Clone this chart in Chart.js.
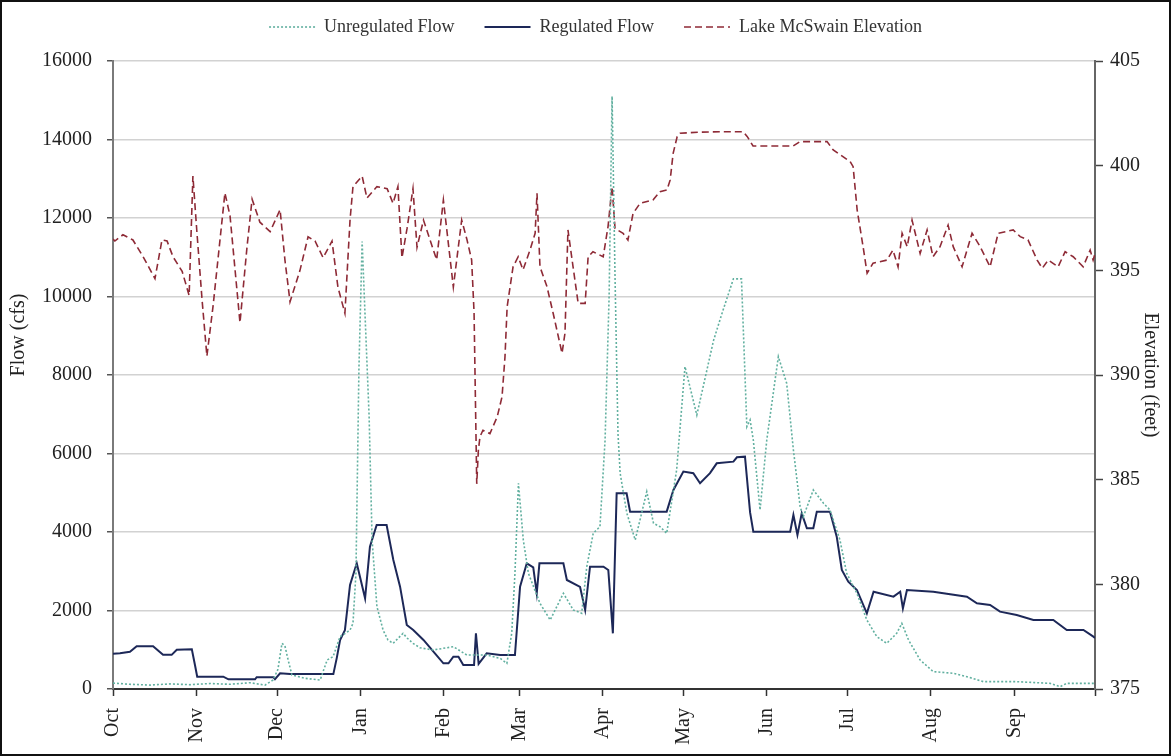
<!DOCTYPE html>
<html>
<head>
<meta charset="utf-8">
<title>Flow and Lake McSwain Elevation</title>
<script src="https://cdn.jsdelivr.net/npm/chart.js@4.4.1/dist/chart.umd.min.js"></script>
<style>
  html, body { margin: 0; padding: 0; background: #ffffff; }
  #c { display: block; }
</style>
</head>
<body>
<canvas id="c" width="1171" height="756"></canvas>
<script>
// Water year axis: day 0 = 1 October
const monthLabels = ['Oct', 'Nov', 'Dec', 'Jan', 'Feb', 'Mar', 'Apr', 'May', 'Jun', 'Jul', 'Aug', 'Sep'];
const monthStartDays = [0, 31, 61, 92, 123, 151, 182, 212, 243, 273, 304, 335];
const yearEndDay = 365;

// Left axis (flow, cfs) and right axis (elevation, feet)
const flowTickValues = [0, 2000, 4000, 6000, 8000, 10000, 12000, 14000, 16000];
const elevTickValues = [375, 380, 385, 390, 395, 400, 405];

// Unregulated flow (cfs)
const unregDays = [0, 6.3, 13.8, 21.2, 28.6, 36.1, 43.5, 50.9, 56.5, 59.5, 61.3, 62.8, 63.9, 65.1, 66.5, 71.4, 77, 79.6, 81.8, 84.4,
  88.1, 89.2, 90.3, 91.4, 92.6, 93.7, 95.2, 96.3, 98.1, 100.4, 102.2, 104.1, 107.8, 109.3, 111.5, 114.1, 119.1, 126.5, 131.5, 138.9,
  143.9, 146.4, 148.2, 149.4, 150.7, 152.5, 154.4, 158.7, 162.5, 167.4, 171.1, 174.2, 176.1, 178.5, 181, 182.9, 184.4, 185.5, 186.6, 187.7,
  188.5, 191, 194.1, 198.4, 200.9, 203.3, 205.8, 209.5, 212.6, 217, 223.2, 226.5, 230.6, 233.6, 235.6, 236.8, 238, 240.5, 243, 247.3,
  250.4, 252.9, 255.4, 256.6, 260.3, 264.1, 266.5, 270.2, 272.7, 276.5, 280.2, 283.9, 287.6, 291.3, 293.2, 295.7, 300, 304.9, 312.4, 317.4,
  323.5, 335.9, 348.3, 352, 354.5, 365];
const unregFlow = [150, 120, 100, 130, 110, 140, 120, 160, 100, 229, 500, 1163, 1100, 739, 357, 272, 229, 739, 824, 1333,
  1500, 1673, 2947, 8128, 11400, 9500, 6938, 3797, 2098, 1500, 1248, 1163, 1418, 1300, 1163, 1050, 994, 1079, 866, 866,
  781, 654, 1418, 2947, 5241, 3797, 2947, 2183, 1758, 2438, 2013, 1928, 3117, 3967, 4137, 6344, 10000, 15100, 10500, 6500,
  5496, 4476, 3797, 5029, 4222, 4137, 3967, 5581, 8213, 6981, 8876, 9600, 10450, 10450, 6684, 6854, 6344, 4561, 6344, 8468,
  7789, 6090, 4646, 4391, 5071, 4731, 4561, 3797, 2947, 2438, 1758, 1333, 1163, 1418, 1673, 1248, 739, 442, 399, 314,
  187, 187, 144, 59, 144, 144];

// Regulated flow (cfs)
const regDays = [0, 2.6, 6.3, 8.8, 14.9, 18.6, 21.8, 23.7, 29.3, 30.5, 31.3, 41, 42.9, 52.8, 53.4, 59.6, 60.2, 62.1, 65.8, 81.9,
  83.2, 84.4, 86.2, 88.1, 90.6, 93.7, 95.5, 98, 101.7, 104.2, 106.7, 109.2, 111.6, 115.4, 119.1, 122.8, 124.7, 126.5, 128.4, 130.2,
  134.2, 134.9, 135.9, 138.9, 143.9, 149.4, 151.3, 153.8, 156.2, 157.5, 158.5, 167.4, 168.7, 173.6, 175.5, 177.3, 182.3, 184.1, 185.8, 187.2,
  190.9, 192.2, 205.8, 208.3, 212, 215.7, 218.2, 221.9, 224.4, 230.6, 231.9, 234.9, 236.8, 238, 251.7, 252.9, 254.4, 256, 257.9, 260.3,
  261.6, 266.5, 269, 270.9, 273.3, 276.5, 280.2, 282.7, 290.1, 292.6, 293.6, 295.1, 304.9, 317.4, 321.1, 326, 329.7, 335.9, 342.1, 349.5,
  354.5, 360.7, 364.4, 365];
const regFlow = [900, 910, 950, 1090, 1090, 870, 870, 1000, 1010, 600, 313, 313, 247, 247, 300, 300, 250, 400, 380, 380,
  800, 1248, 1500, 2650, 3202, 2310, 3626, 4179, 4179, 3287, 2607, 1630, 1503, 1250, 951, 654, 654, 824, 824, 612,
  612, 1418, 640, 909, 866, 866, 2607, 3202, 3100, 2438, 3202, 3202, 2777, 2600, 2013, 3117, 3117, 3032, 1418, 4986,
  4986, 4519, 4519, 5071, 5538, 5496, 5241, 5500, 5750, 5793, 5903, 5920, 4500, 4009, 4009, 4434, 3924, 4476, 4094, 4094,
  4519, 4519, 3882, 3032, 2735, 2523, 1928, 2480, 2353, 2480, 2056, 2523, 2480, 2353, 2183, 2141, 1970, 1885, 1758, 1758,
  1503, 1503, 1333, 1300];

// Lake McSwain elevation (feet)
const elevDays = [0, 0.7, 3.7, 7.4, 11.2, 15.6, 18.2, 20.1, 22.3, 25.7, 28.3, 29.7, 31.2, 33.1, 34.9, 37.2, 41.6, 43.5, 47.2, 49.8,
  51.7, 54.6, 58.4, 62.1, 63.9, 65.8, 69.5, 72.5, 75.1, 78.1, 81.4, 83.6, 86.2, 88.1, 89.2, 92.6, 94.4, 98.1, 101.9, 104.1,
  105.9, 107.4, 109.3, 111.5, 113, 115.4, 120.3, 122.8, 126.5, 129.6, 131.5, 133.3, 134.2, 135.2, 135.8, 136.4, 137.5, 140.1, 142.8, 144.6,
  145.7, 146.5, 148.7, 150.6, 152.4, 155, 156.9, 157.6, 158.7, 161.3, 163.6, 166.9, 168, 169.1, 171, 172.9, 175.5, 176.6, 178.4, 182.2,
  184, 185.5, 186.6, 189.6, 191.4, 193.3, 195.9, 200.7, 203.3, 205.9, 207.1, 208.2, 209.7, 210.8, 218.2, 225.7, 234.2, 235.7, 237.9, 252.8,
  255.4, 265.4, 267.7, 274, 275.1, 276.6, 278.8, 280.3, 282.5, 287.7, 289.9, 291.8, 293.3, 295.2, 297, 300, 302.6, 304.8, 307.4, 310.4,
  312.3, 315.6, 319.3, 322.3, 326, 329, 334.6, 337.2, 340.1, 343.5, 345.4, 347.6, 351.3, 353.9, 356.9, 360.6, 363.2, 364.3, 365];
const elevFeet = [396.5, 396.4, 396.7, 396.45, 395.65, 394.6, 396.45, 396.4, 395.65, 394.95, 393.8, 399.5, 396.8, 393.6, 390.9, 393.3, 398.7, 397.6, 392.5, 396.1,
  398.4, 397.3, 396.85, 397.9, 395.5, 393.5, 395.0, 396.6, 396.4, 395.6, 396.4, 394.2, 392.95, 397.4, 399.0, 399.5, 398.45, 399.0, 398.9, 398.2,
  399.0, 395.6, 397.0, 398.9, 396.1, 397.4, 395.5, 398.36, 394.2, 397.4, 396.5, 395.5, 393.0, 384.8, 386.4, 387.05, 387.36, 387.2, 388.0, 388.96,
  390.87, 393.26, 395.17, 395.65, 395.02, 395.97, 396.77, 398.68, 395.17, 394.22, 392.95, 391.04, 392.0, 396.93, 395.17, 393.42, 393.42, 395.65, 395.89, 395.65,
  397.09, 399.0, 397.0, 396.77, 396.45, 397.72, 398.2, 398.36, 398.76, 398.84, 399.32, 400.59, 401.39, 401.55, 401.6, 401.62, 401.62, 401.4, 400.94, 400.94,
  401.15, 401.15, 400.75, 400.19, 399.95, 397.88, 396.13, 394.86, 395.34, 395.49, 395.97, 395.17, 396.77, 396.13, 397.4, 395.81, 396.93, 395.65, 396.13, 397.16,
  396.13, 395.17, 396.77, 396.13, 395.17, 396.77, 396.93, 396.61, 396.45, 395.49, 395.1, 395.49, 395.17, 395.89, 395.65, 395.17, 395.97, 395.49, 395.8];

const toPoints = (xs, ys) => xs.map((x, i) => ({ x: x, y: ys[i] }));

const SERIF = "'Liberation Serif', 'Times New Roman', serif";
const TEXT = '#222222';

// Plot box inside the 1171 x 756 canvas
const PLOT_LEFT = 113, PLOT_RIGHT = 1095, PLOT_BOTTOM = 689;
const PAD_LEFT = 20;

// Extra room under the legend row
const legendSpacer = {
  id: 'legendSpacer',
  beforeInit(chart) {
    const baseFit = chart.legend.fit;
    chart.legend.fit = function () {
      baseFit.call(this);
      this.height += 15;
    };
  }
};

// White page with a dark frame
const pageFrame = {
  id: 'pageFrame',
  beforeDraw(chart) {
    const ctx = chart.ctx;
    ctx.save();
    ctx.fillStyle = '#ffffff';
    ctx.fillRect(0, 0, chart.width, chart.height);
    ctx.restore();
  },
  afterDraw(chart) {
    const ctx = chart.ctx;
    ctx.save();
    ctx.strokeStyle = '#111111';
    ctx.lineWidth = 2;
    ctx.strokeRect(1, 1, chart.width - 2, chart.height - 2);
    ctx.restore();
  }
};

// Left axis title, set a little above the middle of the axis
const flowAxisTitle = {
  id: 'flowAxisTitle',
  afterDraw(chart) {
    const ctx = chart.ctx;
    ctx.save();
    ctx.translate(19, 335);
    ctx.rotate(-Math.PI / 2);
    ctx.font = '20px ' + SERIF;
    ctx.fillStyle = TEXT;
    ctx.textAlign = 'center';
    ctx.textBaseline = 'middle';
    ctx.fillText('Flow (cfs)', 0, 0);
    ctx.restore();
  }
};

// Legend samples use each series' own line colour, width and dash
function legendLineItems(chart) {
  const items = Chart.defaults.plugins.legend.labels.generateLabels(chart);
  items.forEach(item => {
    const ds = chart.data.datasets[item.datasetIndex];
    item.strokeStyle = ds.borderColor;
    item.lineWidth = ds.borderWidth;
    item.lineDash = ds.borderDash || [];
    item.pointStyle = 'line';
  });
  return items;
}

new Chart(document.getElementById('c'), {
  type: 'line',
  data: {
    datasets: [
      {
        label: 'Unregulated Flow',
        data: toPoints(unregDays, unregFlow),
        yAxisID: 'y',
        borderColor: '#62b0a0',
        backgroundColor: 'rgba(0,0,0,0)',
        borderWidth: 1.6,
        borderDash: [2, 2],
        pointRadius: 0,
        tension: 0
      },
      {
        label: 'Regulated Flow',
        data: toPoints(regDays, regFlow),
        yAxisID: 'y',
        borderColor: '#1d2858',
        backgroundColor: 'rgba(0,0,0,0)',
        borderWidth: 2,
        pointRadius: 0,
        tension: 0
      },
      {
        label: 'Lake McSwain Elevation',
        data: toPoints(elevDays, elevFeet),
        yAxisID: 'y2',
        borderColor: '#8e2a36',
        backgroundColor: 'rgba(0,0,0,0)',
        borderWidth: 1.6,
        borderDash: [7, 4],
        pointRadius: 0,
        tension: 0
      }
    ]
  },
  options: {
    responsive: false,
    animation: false,
    devicePixelRatio: 1,
    layout: { padding: { top: -12, left: PAD_LEFT, right: 0, bottom: 0 } },
    plugins: {
      tooltip: { enabled: false },
      legend: {
        display: true,
        position: 'top',
        labels: {
          font: { family: SERIF, size: 18 },
          color: '#333333',
          usePointStyle: true,
          pointStyle: 'line',
          pointStyleWidth: 46,
          boxHeight: 10,
          padding: 30,
          generateLabels: legendLineItems
        }
      }
    },
    scales: {
      x: {
        type: 'linear',
        position: 'bottom',
        min: 0,
        max: yearEndDay,
        afterBuildTicks(scale) {
          scale.ticks = monthStartDays.concat([yearEndDay]).map(v => ({ value: v }));
        },
        afterFit(scale) { scale.height = 756 - PLOT_BOTTOM; },
        ticks: {
          autoSkip: false,
          maxRotation: 90,
          minRotation: 90,
          padding: 12,
          color: TEXT,
          font: { family: SERIF, size: 20 },
          callback: (value, index) => (index < monthLabels.length ? monthLabels[index] : '')
        },
        grid: { drawOnChartArea: false, drawTicks: true, tickLength: 7, tickColor: '#333333', tickWidth: 1.5 },
        border: { display: true, color: '#333333', width: 2 }
      },
      y: {
        type: 'linear',
        position: 'left',
        min: flowTickValues[0],
        max: flowTickValues[flowTickValues.length - 1],
        afterBuildTicks(scale) {
          scale.ticks = flowTickValues.map(v => ({ value: v }));
        },
        afterFit(scale) { scale.width = PLOT_LEFT - PAD_LEFT; },
        ticks: {
          padding: 15,
          color: TEXT,
          font: { family: SERIF, size: 20 },
          callback: v => String(v)
        },
        grid: { color: '#d2d2d2', lineWidth: 1.5, tickLength: 6, tickColor: '#555555', tickWidth: 1.5 },
        border: { display: true, color: '#7a7a7a', width: 2 }
      },
      y2: {
        type: 'linear',
        position: 'right',
        min: elevTickValues[0],
        max: elevTickValues[elevTickValues.length - 1],
        afterBuildTicks(scale) {
          scale.ticks = elevTickValues.map(v => ({ value: v }));
        },
        afterFit(scale) { scale.width = 1171 - PLOT_RIGHT; },
        ticks: {
          padding: 7,
          color: TEXT,
          font: { family: SERIF, size: 20 },
          callback: v => String(v)
        },
        title: {
          display: true,
          text: 'Elevation (feet)',
          color: TEXT,
          font: { family: SERIF, size: 20 },
          padding: { top: 9, bottom: 2 }
        },
        grid: { drawOnChartArea: false, tickLength: 8, tickColor: '#444444', tickWidth: 1.5 },
        border: { display: true, color: '#666666', width: 2 }
      }
    }
  },
  plugins: [legendSpacer, pageFrame, flowAxisTitle]
});
</script>
</body>
</html>
